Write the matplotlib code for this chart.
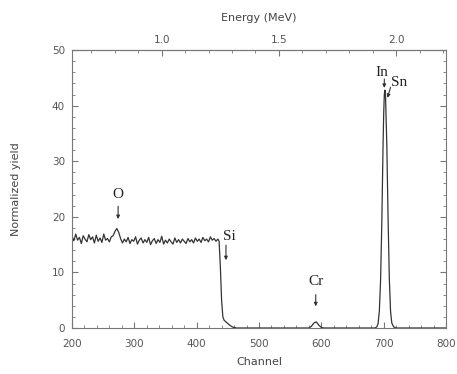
import numpy as np
import matplotlib.pyplot as plt
from matplotlib.ticker import MultipleLocator, FixedLocator

# background region (channel 200-434, step 3)
bg_channel = list(range(200, 435, 3))
bg_yield = [16.5, 15.7, 16.9, 15.8, 16.3, 15.2, 16.6, 16.0, 15.5, 16.8,
            15.9, 16.4, 15.3, 16.7, 15.6, 16.2, 15.4, 16.9, 15.8, 16.1,
            15.5, 16.4, 16.6, 17.4, 17.9, 17.2, 16.1, 15.3, 16.0, 15.5,
            16.3, 15.2, 15.9, 15.6, 16.4, 15.1, 15.8, 16.2, 15.3, 15.9,
            15.4, 16.3, 15.0, 15.7, 16.1, 15.2, 15.9, 15.4, 16.5, 15.1,
            15.8, 15.3, 16.0, 15.5, 15.1, 16.2, 15.4, 15.9, 15.3, 16.0,
            15.6, 15.2, 16.1, 15.5, 15.9, 15.3, 16.2, 15.6, 16.0, 15.4,
            16.3, 15.7, 16.0, 15.5, 16.4, 15.8, 16.1, 15.6, 16.0]

# Si edge, Cr bump, In/Sn peak
tail_channel = [436, 438, 440, 442, 444, 448, 453, 458, 464,
                580, 584, 588, 592, 596, 600, 604,
                686, 689, 691, 693, 695, 697, 699, 700, 701, 702, 703, 705,
                707, 709, 711, 713, 716, 720, 800]
tail_yield = [15.6, 11.0, 5.0, 2.0, 1.4, 1.0, 0.5, 0.15, 0.0,
              0.0, 0.3, 0.9, 1.1, 0.5, 0.1, 0.0,
              0.0, 0.2, 0.8, 3.0, 8.5, 19.0, 33.0, 38.5, 42.0, 42.8, 41.5, 33.0,
              20.0, 9.0, 3.0, 0.9, 0.2, 0.0, 0.0]

channel = np.array(bg_channel + tail_channel)
counts = np.array(bg_yield + tail_yield)

# element markers: label, arrow start/end (channel, yield), text position
labels = ['O', 'Si', 'Cr', 'In', 'Sn']
arrow_from = [(274, 21.9), (447, 14.9), (591, 6.0), (701, 44.8), (711, 43.3)]
arrow_to = [(274, 19.6), (447, 12.2), (591, 3.9), (701, 43.2), (706, 41.4)]
text_xy = [(274, 24.0), (452, 16.4), (591, 8.3), (697, 46.0), (724, 44.1)]

ch2e_slope = 0.00266
ch2e_offset = 0.085

fig = plt.figure(figsize=(4.57, 3.74), dpi=100)
ax = fig.add_axes([0.1575, 0.123, 0.8185, 0.743])

ax.plot(channel, counts, color='#333333', lw=0.9)

for lab, a0, a1, (tx, ty) in zip(labels, arrow_from, arrow_to, text_xy):
    ax.annotate('', xy=a1, xytext=a0,
                arrowprops=dict(arrowstyle='-|>', color='#333333', lw=0.8,
                                mutation_scale=5, shrinkA=0, shrinkB=0))
    ax.text(tx, ty, lab, family='Liberation Serif', fontsize=11,
            ha='center', va='center', color='#222222')

ax.set_xlim(200, 800)
ax.set_ylim(0, 50)
ax.xaxis.set_major_locator(MultipleLocator(100))
ax.xaxis.set_minor_locator(MultipleLocator(20))
ax.yaxis.set_major_locator(MultipleLocator(10))
ax.yaxis.set_minor_locator(MultipleLocator(2))
ax.tick_params(which='both', direction='in', right=True, colors='#777777',
               labelcolor='#555555', labelsize=7.5)
ax.tick_params(which='major', length=4)
ax.tick_params(which='minor', length=2)
ax.tick_params(axis='x', pad=8)
ax.tick_params(axis='y', pad=5)
for s in ax.spines.values():
    s.set_color('#777777')

ax.set_xlabel('Channel', fontsize=8, color='#444444', labelpad=6)
ax.set_ylabel('Normalized yield', fontsize=8, color='#444444', labelpad=22)

top = ax.secondary_xaxis('top', functions=(
    lambda c: ch2e_slope * c + ch2e_offset,
    lambda e: (e - ch2e_offset) / ch2e_slope))
top.xaxis.set_major_locator(FixedLocator([1.0, 1.5, 2.0]))
top.xaxis.set_minor_locator(FixedLocator(
    [0.7, 0.8, 0.9, 1.1, 1.2, 1.3, 1.4, 1.6, 1.7, 1.8, 1.9, 2.1, 2.2]))
top.tick_params(which='both', direction='in', colors='#777777',
                labelcolor='#555555', labelsize=7.5)
top.tick_params(which='major', length=4)
top.tick_params(which='minor', length=2)
top.spines['top'].set_color('#777777')
top.set_xlabel('Energy (MeV)', fontsize=8, color='#444444', labelpad=10)

fig.savefig('out.png', dpi=100)
